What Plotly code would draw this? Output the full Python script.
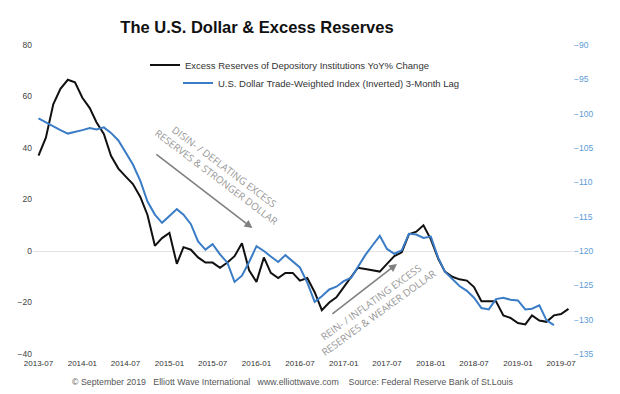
import pandas as pd
import plotly.graph_objects as go

# ---- data (monthly, starting 2013-07) ----
start_month = "2013-07-01"
excess_reserves_yoy = [
    37, 44, 57, 63, 66.5, 65.5, 59.5, 55.5, 50, 45.5,
    37, 32, 29, 26, 21, 14, 2, 5, 7, -5,
    1.5, 0.5, -2.5, -4.5, -4.5, -6.5, -4.5, -2, 3, -7.5,
    -12, -2.5, -8.5, -10.5, -8.5, -8.5, -11.5, -10.5, -16, -23,
    -20, -18, -14, -10, -6.5, -7, -7.5, -8, -5, -2,
    -0.5, 6.5, 7.5, 10, 4.5, -3, -8, -10, -11, -11.5,
    -14, -19.5, -19.5, -19.5, -25, -26, -28, -28.5, -25, -27,
    -27.5, -25, -24.5, -22.5,
]
dollar_index_inv_lag = [
    -100.7, -101.3, -101.8, -102.4, -102.9, -102.7, -102.4, -102.1, -102.3, -102.0,
    -102.8, -103.9, -105.7, -107.4, -109.8, -112.8, -114.7, -115.9, -114.9, -113.9,
    -114.7, -116.1, -118.6, -119.8, -119.0, -120.5, -121.7, -124.5, -123.6, -121.6,
    -119.3, -120.0, -120.8, -121.6, -120.6, -121.5, -122.4, -124.6, -127.4, -126.6,
    -125.6, -125.2, -124.4, -123.9, -122.3, -120.6, -119.2, -117.8, -119.7, -120.4,
    -119.9, -117.5, -117.6, -118.1, -117.9, -121.0, -123.0, -124.1, -125.1, -125.8,
    -126.8, -128.3, -128.5, -127.0, -126.8, -127.1, -127.2, -128.5, -128.4, -127.9,
    -130.1, -130.8,
]
left_ticks = [-40, -20, 0, 20, 40, 60, 80]
right_ticks = [-90, -95, -100, -105, -110, -115, -120, -125, -130, -135]

series_names = [
    "Excess Reserves of Depository Institutions YoY% Change",
    "U.S. Dollar Trade-Weighted Index (Inverted) 3-Month Lag",
]
title_text = "The U.S. Dollar & Excess Reserves"
footer_text = ("© September 2019   Elliott Wave International   www.elliottwave.com"
               "    Source: Federal Reserve Bank of St.Louis")
note1 = "DISIN- / DEFLATING EXCESS<br>RESERVES & STRONGER DOLLAR"
note2 = "REIN- / INFLATING EXCESS<br>RESERVES & WEAKER DOLLAR"

dates_black = pd.date_range(start_month, periods=len(excess_reserves_yoy), freq="MS")
dates_blue = pd.date_range(start_month, periods=len(dollar_index_inv_lag), freq="MS")

BLACK = "#111111"
BLUE = "#3a7cc6"
FONT = "Liberation Sans, Arial, sans-serif"

# page body has a default 8px margin; positions below are figure pixels
OFF = 8
W, H = 620, 394
L, R, T, B = 33 - OFF, 573 - OFF, 45 - OFF, 354 - OFF


def px_x(p):
    return (p - L) / (R - L)


def px_y(p):
    return (B - p) / (B - T)


fig = go.Figure()
fig.add_trace(go.Scatter(
    x=dates_black, y=excess_reserves_yoy, name=series_names[0], mode="lines",
    line=dict(color=BLACK, width=2), yaxis="y", legend="legend",
))
fig.add_trace(go.Scatter(
    x=dates_blue, y=dollar_index_inv_lag, name=series_names[1], mode="lines",
    line=dict(color=BLUE, width=2), yaxis="y2", legend="legend2",
))

fig.update_layout(
    width=W, height=H,
    margin=dict(l=L, r=W - R, t=T, b=H - B, autoexpand=False),
    paper_bgcolor="white", plot_bgcolor="white",
    font=dict(family=FONT, color="#333333", size=9),
    title=dict(
        text="<b>" + title_text + "</b>",
        font=dict(family=FONT, size=16.5, color="#111111"),
        x=249 / W, xanchor="center", xref="container",
        y=1 - 19 / H, yanchor="middle", yref="container",
    ),
    xaxis=dict(
        type="date", range=["2013-06-08", "2019-08-20"],
        tick0="2013-07-01", dtick="M6", tickformat="%Y-%m",
        showgrid=False, zeroline=False, showline=False, ticks="",
        ticklabelstandoff=3,
        tickfont=dict(size=8, color="#333333"),
    ),
    yaxis=dict(
        range=[-40, 80], tickvals=left_ticks, showgrid=False,
        zeroline=True, zerolinecolor="#e3e3e3", zerolinewidth=1,
        showline=False, ticks="", tickfont=dict(size=8.5, color="#444444"),
    ),
    yaxis2=dict(
        range=[-135, -90], tickvals=right_ticks, overlaying="y", side="right",
        showgrid=False, zeroline=False, showline=False, ticks="",
        tickfont=dict(size=8.5, color="#5b9bd5"),
    ),
    legend=dict(
        x=px_x(137), xanchor="left", y=px_y(57), yanchor="middle",
        bgcolor="rgba(0,0,0,0)", font=dict(size=9.5, color="#333333"),
    ),
    legend2=dict(
        x=px_x(170), xanchor="left", y=px_y(75), yanchor="middle",
        bgcolor="rgba(0,0,0,0)", font=dict(size=9.5, color="#333333"),
    ),
    showlegend=True,
)

annots = [
    dict(text=note1, x="2015-08-01", y=30.7, xref="x", yref="y", showarrow=False,
         textangle=37, font=dict(size=10, color="#999999", family="Open Sans, sans-serif")),
    dict(text=note2, x="2017-05-10", y=-22.1, xref="x", yref="y", showarrow=False,
         textangle=-36, font=dict(size=10, color="#999999", family="Open Sans, sans-serif")),
    dict(text="", x="2015-12-15", y=8.9, xref="x", yref="y",
         ax="2014-11-01", ay=38, axref="x", ayref="y", showarrow=True,
         arrowhead=2, arrowsize=1, arrowwidth=1.6, arrowcolor="#808080"),
    dict(text="", x="2017-08-12", y=-5, xref="x", yref="y",
         ax="2016-11-08", ay=-24.9, axref="x", ayref="y", showarrow=True,
         arrowhead=2, arrowsize=1, arrowwidth=1.6, arrowcolor="#808080"),
    dict(text=footer_text, x=px_x(284.5), y=px_y(374), xref="paper", yref="paper",
         xanchor="center", yanchor="middle", showarrow=False,
         font=dict(size=8.8, color="#555555")),
]
fig.update_layout(annotations=annots)

fig.write_html("out.html")
